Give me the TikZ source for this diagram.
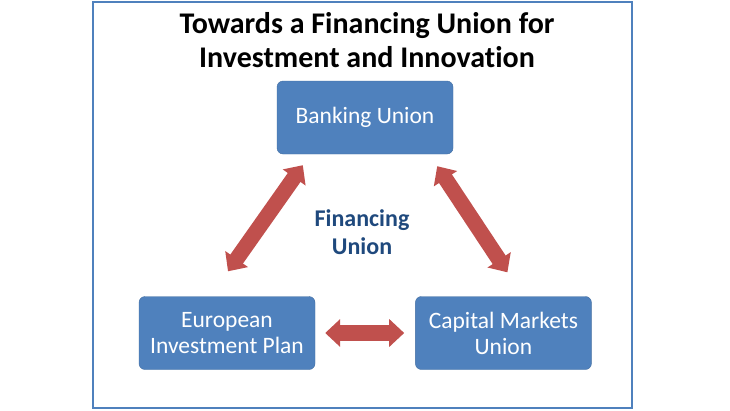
\documentclass[tikz,border=0pt]{standalone}
\usepackage{fontspec}
\setmainfont{Carlito}[Ligatures=NoCommon]
\usetikzlibrary{arrows.meta,positioning,calc}
\definecolor{boxblue}{RGB}{79,129,189}
\definecolor{arrowred}{RGB}{192,80,77}
\definecolor{labelblue}{RGB}{31,73,125}
\tikzstyle{unionbox}=[rectangle,rounded corners=6pt,draw=boxblue!85!black,fill=boxblue,
                  minimum width=176pt,minimum height=73pt,inner sep=0pt,align=center,
                  text=white,font=\fontsize{23.5}{26}\selectfont]
\tikzstyle{duoarrow}=[{Triangle[width=27pt,length=15pt]}-{Triangle[width=27pt,length=15pt]},
                  line width=15.5pt,draw=arrowred]

\begin{document}
\begin{tikzpicture}[x=1pt,y=-1pt,node distance=100pt]
      \useasboundingbox (0,0) rectangle (730,410);
      \draw[boxblue,line width=1.5pt] (93,2) rectangle (632,408);
      \node[font=\bfseries\fontsize{30}{34}\selectfont,align=center] (title) at (367,40)
            {Towards a Financing Union for\\Investment and Innovation};
      \node[unionbox] (bu) at (365,117.5) {Banking Union};
      \node[unionbox] (eip) at (227,333) {European\\Investment Plan};
      \node[unionbox,right=of eip] (cmu) {Capital Markets\\Union};
      \node[font=\bfseries\fontsize{24}{28}\selectfont,text=labelblue,align=center] (fin) at (362,232)
            {Financing\\Union};

      % arrow ends, a little off the boxes
      \coordinate (l1) at ($(eip.north)+(1,-25)$);
      \coordinate (l2) at ($(bu.south west)+(26,11)$);
      \coordinate (r1) at ($(bu.south east)+(-16,12)$);
      \coordinate (r2) at ($(cmu.north)+(4,-24)$);
      \coordinate (b1) at ($(eip.east)+(10,0)$);
      \coordinate (b2) at ($(cmu.west)+(-11,0)$);

      \draw[duoarrow] (l1)--(l2);
      \draw[duoarrow] (r1)--(r2);
      \draw[duoarrow] (b1)--(b2);
    \end{tikzpicture}
\end{document}
